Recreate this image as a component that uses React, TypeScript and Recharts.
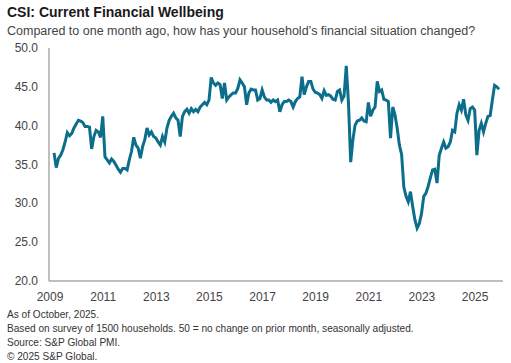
import React from "react";
import { LineChart, Line, XAxis, YAxis } from "recharts";

const START_YEAR = 2009;
const wellbeing: number[] = [
  36.5, 34.6, 35.8, 36.2, 36.9, 37.9, 39.1, 38.7, 39.0, 39.7, 40.2, 40.7,
  40.6, 40.4, 39.9, 39.9, 39.8, 37.0, 38.6, 39.4, 39.2, 38.5, 41.2, 36.0,
  35.6, 35.2, 35.7, 35.4, 34.9, 34.4, 34.0, 34.5, 34.5, 34.3, 35.6, 36.7,
  38.5, 37.5, 37.1, 35.8, 37.3, 38.2, 39.7, 38.8, 39.2, 38.6, 38.4, 37.9,
  37.5, 38.6, 37.9, 39.7, 40.7, 41.2, 41.6, 41.0, 40.7, 38.6, 41.2, 41.8,
  42.1, 41.6, 42.2, 41.8, 42.1, 41.8, 42.4, 42.7, 43.0, 42.7, 43.3, 46.2,
  45.5, 45.2, 45.5, 45.3, 43.5, 45.5, 43.3, 43.7, 44.0, 44.2, 44.2, 44.8,
  45.9, 45.5, 45.0, 42.7, 44.2, 44.7, 44.6, 44.6, 43.3, 43.5, 44.6, 43.7,
  43.3, 43.3, 43.0, 43.3, 43.1, 43.3, 41.8, 42.7, 43.1, 43.1, 43.3, 43.1,
  42.4, 43.1, 43.5, 43.7, 46.3, 44.0, 45.0, 45.7, 45.7, 44.7, 44.3, 44.2,
  44.0, 43.5, 44.5, 43.9, 44.0, 43.8, 43.4, 43.3, 44.4, 44.6, 43.3, 43.8,
  47.7, 42.9, 35.3, 38.2, 40.1, 40.6, 40.7, 41.0, 40.6, 40.5, 43.0, 41.2,
  42.0, 42.4, 45.7, 44.4, 44.6, 43.4, 43.3, 43.1, 38.4, 42.4, 41.4, 39.7,
  37.5, 36.3, 32.1, 30.9, 30.2, 31.5, 29.6, 27.9, 26.8, 27.4, 28.7, 30.9,
  31.3, 32.2, 33.3, 34.3, 34.4, 32.6, 36.2, 37.1, 37.9, 37.1, 37.3, 37.9,
  39.4, 39.2, 41.6, 42.7, 42.0, 43.4, 41.4, 40.7, 42.2, 42.4, 42.0, 36.2,
  39.4, 40.3, 39.2, 40.3, 41.2, 41.3, 43.3, 45.2, 45.0, 44.7,
];

const xTicks = [2009, 2011, 2013, 2015, 2017, 2019, 2021, 2023, 2025];
const yTicks = [20, 25, 30, 35, 40, 45, 50];

const title = "CSI: Current Financial Wellbeing";
const subtitle =
  "Compared to one month ago, how has your household\u2019s financial situation changed?";
const footnotes = [
  "As of October, 2025.",
  "Based on survey of 1500 households. 50 = no change on prior month, seasonally adjusted.",
  "Source: S&P Global PMI.",
  "\u00a9 2025 S&P Global.",
];

const data = wellbeing.map((v, i) => ({ t: START_YEAR + i / 12, v }));

const FONT = "'Liberation Sans', Arial, sans-serif";

const XTick = (props: any) => {
  const { x, y, payload } = props;
  return (
    <text x={x - 4} y={y + 12} textAnchor="middle" fontSize={12} fill="#444" fontFamily={FONT}>
      {payload.value}
    </text>
  );
};

const YTick = (props: any) => {
  const { y, payload } = props;
  return (
    <text x={38} y={y + 4} textAnchor="end" fontSize={12} fill="#444" fontFamily={FONT}>
      {Number(payload.value).toFixed(1)}
    </text>
  );
};

export default function App() {
  return (
    <div style={{ position: "absolute", left: 0, top: 0, width: 511, height: 363, background: "#fff", fontFamily: FONT }}>
      <div style={{ position: "absolute", left: 7, top: 4, fontSize: 14, fontWeight: 700, color: "#1a1a1a", whiteSpace: "nowrap" }}>
        {title}
      </div>
      <div style={{ position: "absolute", left: 7, top: 24, fontSize: 12.5, color: "#444", whiteSpace: "nowrap" }}>
        {subtitle}
      </div>
      <div style={{ position: "absolute", left: 0, top: 0 }}>
        <LineChart width={511} height={363} data={data} margin={{ top: 48, right: 8, bottom: 52, left: 0 }}>
          <XAxis
            dataKey="t"
            type="number"
            domain={[2008.81, 2025.9]}
            ticks={xTicks}
            allowDataOverflow
            height={30}
            tickLine={false}
            axisLine={{ stroke: "#aaa", strokeWidth: 1.5 }}
            tick={<XTick />}
            interval={0}
          />
          <YAxis
            type="number"
            domain={[20, 50]}
            ticks={yTicks}
            width={49}
            tickLine={false}
            axisLine={{ stroke: "#aaa", strokeWidth: 1.5 }}
            tick={<YTick />}
            interval={0}
          />
          <Line
            type="linear"
            dataKey="v"
            stroke="#0b6e8a"
            strokeWidth={3}
            dot={false}
            isAnimationActive={false}
          />
        </LineChart>
      </div>
      {footnotes.map((f, i) => (
        <div key={i} style={{ position: "absolute", left: 7, top: 309 + i * 14, fontSize: 10.1, color: "#333", whiteSpace: "nowrap" }}>
          {f}
        </div>
      ))}
    </div>
  );
}
